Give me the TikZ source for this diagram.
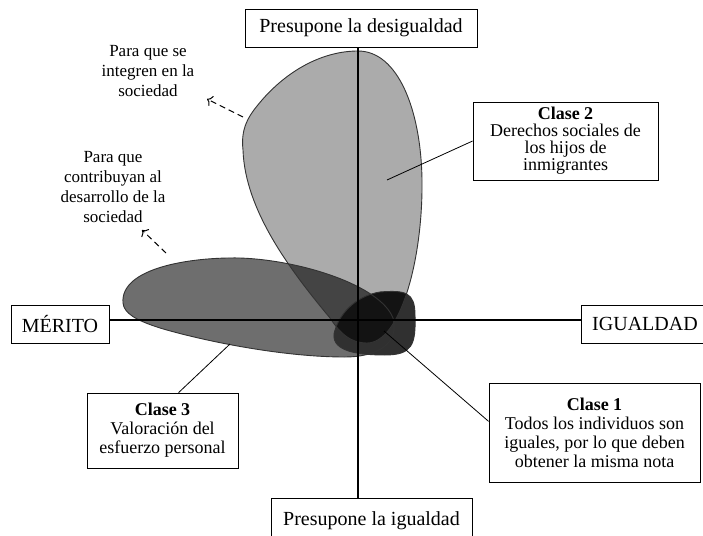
\documentclass[tikz,border=0pt]{standalone}
\usepackage{fontspec}
\setmainfont{Liberation Serif}
\usetikzlibrary{arrows.meta}
\definecolor{grisdos}{HTML}{ABABAB}
\definecolor{gristres}{HTML}{6E6E6E}
\definecolor{grismix}{HTML}{444444}
\definecolor{grisuno}{HTML}{303030}
\definecolor{grisnucleo}{HTML}{131313}
\newcommand{\formados}{(358,51) .. controls (398,51) and (421,110) .. (422,180)
	.. controls (423,260) and (400,343) .. (367,343)
	.. controls (350,343) and (340,333) .. (330,318)
	.. controls (290,270) and (245,210) .. (243,150)
	.. controls (240,125) and (252,112) .. (262,100)
	.. controls (290,68) and (325,51) .. (358,51) -- cycle}
\newcommand{\formatres}{(123,303) .. controls (120,268) and (190,257) .. (240,258)
	.. controls (300,260) and (380,285) .. (393,318)
	.. controls (400,345) and (375,357) .. (345,357)
	.. controls (280,357) and (200,340) .. (160,328)
	.. controls (135,320) and (124,313) .. (123,303) -- cycle}
\newcommand{\formauno}{(334,334) .. controls (338,315) and (355,296) .. (380,292)
	.. controls (405,290) and (415,292) .. (415,315)
	.. controls (416,345) and (412,355) .. (385,355)
	.. controls (360,355) and (332,352) .. (334,334) -- cycle}
\begin{document}
\begin{tikzpicture}[x=1pt,y=-1pt,
	axisbox/.style={draw,line width=0.8pt,minimum height=38pt,inner sep=0pt,font=\fontsize{20}{22}\selectfont},
	clsbox/.style={draw,fill=white,line width=0.8pt,align=center,inner sep=0pt,font=\fontsize{18}{19}\selectfont},
	note/.style={align=center,font=\fontsize{17}{20}\selectfont},
	axis/.style={line width=1.4pt},
	blob/.style={draw=black!80,line width=0.9pt},
	pointer/.style={dash pattern=on 6pt off 4pt,line width=1pt,-{To[length=5pt,width=11pt]}}]
	\useasboundingbox (0,0) rectangle (703,535);
	% regions
	\fill[gristres] \formatres;
	\fill[grisdos] \formados;
	\begin{scope}
		\clip \formatres;
		\fill[grismix] \formados;
	\end{scope}
	\fill[grisuno] \formauno;
	\begin{scope}
		\clip \formauno;
		\fill[grisnucleo] \formados;
	\end{scope}
	\draw[blob] \formatres;
	\draw[blob] \formados;
	\draw[blob] \formauno;
	% axes
	\node[axisbox,minimum width=232pt] (desig) at (361,28) {Presupone la desigualdad};
	\node[axisbox,minimum width=201pt,minimum height=46pt] (igual) at (371.5,521) {Presupone la igualdad};
	\node[axisbox,minimum width=98pt] (merito) at (60,324) {MÉRITO};
	\node[axisbox,minimum width=140pt] (igualdad) at (651,324) {\hspace*{-12pt}IGUALDAD};
	\coordinate (origen) at (358,320);
	\draw[axis] (origen |- desig.south) -- (origen |- igual.north);
	\draw[axis] (origen -| merito.east) -- (origen -| igualdad.west);
	% classes
	\node[clsbox,minimum width=185pt,minimum height=78pt,font=\fontsize{18}{17}\selectfont] (clase2) at (565.5,141)
		{\textbf{Clase 2}\\Derechos sociales de\\los hijos de\\inmigrantes};
	\node[clsbox,minimum width=211pt,minimum height=99pt] (clase1) at (594.5,432.5)
		{\textbf{Clase 1}\\Todos los individuos son\\iguales, por lo que deben\\obtener la misma nota};
	\node[clsbox,minimum width=151pt,minimum height=75pt] (clase3) at (162.5,430.5)
		{\textbf{Clase 3}\\Valoración del\\esfuerzo personal};
	\coordinate (punto2) at (387,180);
	\coordinate (punto1) at (384,331);
	\coordinate (punto3) at (230,344);
	\draw[line width=0.8pt] (clase2.west) -- (punto2);
	\draw[line width=0.8pt] (punto1) -- (clase1.174);
	\draw[line width=0.8pt] (punto3) -- (clase3.67);
	% notes
	\node[note] (integren) at (148,71) {Para que se\\integren en la\\sociedad};
	\node[note] (contribuyan) at (113,187) {Para que\\contribuyan al\\desarrollo de la\\sociedad};
	\coordinate (flecha1a) at (243,117);
	\coordinate (flecha1b) at (207,99);
	\coordinate (flecha2a) at (166,253);
	\coordinate (flecha2b) at (142,230);
	\draw[pointer] (flecha1a) -- (flecha1b);
	\draw[pointer] (flecha2a) -- (flecha2b);
\end{tikzpicture}
\end{document}
